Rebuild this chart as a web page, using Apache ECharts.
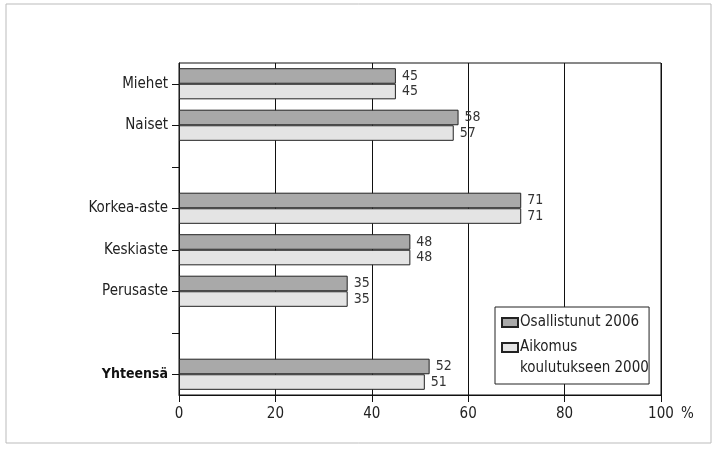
<!DOCTYPE html>
<html>
<head>
<meta charset="utf-8">
<script src="https://cdn.jsdelivr.net/npm/echarts@6/dist/echarts.min.js"></script>
<style>
html,body{margin:0;padding:0;background:#fff;}
#chart{width:715px;height:450px;}
</style>
</head>
<body>
<div id="chart"></div>
<script>
const categories = ['Miehet', 'Naiset', '', 'Korkea-aste', 'Keskiaste', 'Perusaste', '', 'Yhteensä'];
const osallistunut2006 = [45, 58, null, 71, 48, 35, null, 52];
const aikomus2000 = [45, 57, null, 71, 48, 35, null, 51];
const xTicks = [0, 20, 40, 60, 80, 100];

const FONT = '"Liberation Sans Narrow", "DejaVu Sans Condensed", "Open Sans", sans-serif';
const chart = echarts.init(document.getElementById('chart'));

const labelStyle = {
  show: true, position: 'right', distance: 6,
  fontFamily: FONT, fontSize: 14, color: '#333'
};

chart.setOption({
  animation: false,
  backgroundColor: '#fff',
  textStyle: { fontFamily: FONT },
  grid: { left: 179, right: 54, top: 63, bottom: 55, show: true, borderColor: '#111', borderWidth: 1 },
  xAxis: {
    type: 'value', min: xTicks[0], max: xTicks[xTicks.length - 1], interval: 20,
    name: '%', nameLocation: 'end', nameGap: 20,
    nameTextStyle: { fontFamily: FONT, fontSize: 15, color: '#222', verticalAlign: 'top', padding: [12, 0, 0, 0] },
    axisLine: { show: true, lineStyle: { color: '#111', width: 1 } },
    axisTick: { show: true, length: 7, lineStyle: { color: '#111' } },
    axisLabel: { fontFamily: FONT, fontSize: 15, color: '#222', margin: 12 },
    splitLine: { show: true, lineStyle: { color: '#111', width: 1 } }
  },
  yAxis: {
    type: 'category', data: categories, inverse: true,
    axisLine: { show: true, lineStyle: { color: '#111', width: 1 } },
    axisTick: { show: true, alignWithLabel: true, length: 7, lineStyle: { color: '#111' } },
    axisLabel: {
      fontFamily: FONT, fontSize: 15, color: '#222', margin: 11,
      formatter: v => v === 'Yhteensä' ? '{b|' + v + '}' : v,
      rich: { b: { fontFamily: FONT, fontSize: 14, fontWeight: 'bold', color: '#111' } }
    },
    splitLine: { show: false }
  },
  legend: {
    orient: 'vertical', left: 495, top: 307,
    backgroundColor: '#fff', borderColor: '#222', borderWidth: 1,
    padding: [8, 10, 29, 6], itemGap: 10,
    itemWidth: 16, itemHeight: 9, icon: 'rect',
    textStyle: { fontFamily: FONT, fontSize: 15, color: '#222', padding: [0, 0, 0, -3] },
    data: ['Osallistunut 2006', 'Aikomus']
  },
  graphic: [
    { type: 'rect', shape: { x: 6, y: 4, width: 705, height: 439 }, style: { fill: 'none', stroke: '#bbb', lineWidth: 1 }, silent: true },
    { type: 'text', left: 520, top: 361, z: 100, style: { text: 'koulutukseen 2000', fontFamily: FONT, fontSize: 15, fill: '#222' } }
  ],
  series: [
    {
      name: 'Osallistunut 2006', type: 'bar', data: osallistunut2006,
      barGap: '0%', barCategoryGap: '25%',
      itemStyle: { color: '#a9a9a9', borderColor: '#222', borderWidth: 1 },
      label: labelStyle
    },
    {
      name: 'Aikomus', type: 'bar', data: aikomus2000,
      itemStyle: { color: '#e4e4e4', borderColor: '#222', borderWidth: 1 },
      label: labelStyle
    }
  ]
});
</script>
</body>
</html>
